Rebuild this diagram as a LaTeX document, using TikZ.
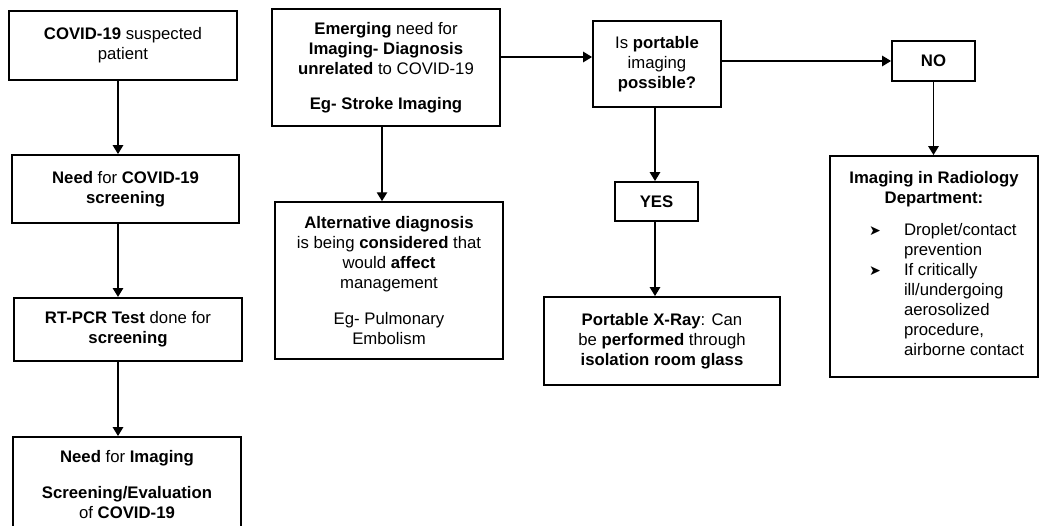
\documentclass[tikz,border=0pt]{standalone}
\usepackage{fontspec}
\setmainfont{Liberation Sans}
\newfontfamily\bulletfont{DejaVu Sans}
\usepackage{tikz}
\usetikzlibrary{arrows.meta}
\newcommand{\boxfont}{\fontsize{11.9}{14.2}\selectfont}
\newcommand{\bul}{{\bulletfont\fontsize{10}{14.2}\selectfont ➤}}
\tikzset{
  box/.style={draw=black, line width=1.4pt, fill=white,
              inner sep=3pt, align=center, font=\boxfont},
  answer/.style={box, font=\boxfont\bfseries},
  flow/.style={-{Triangle[length=2.2mm,width=2.6mm]}, line width=0.9pt},
}

\begin{document}
\begin{tikzpicture}[x=1cm,y=1cm]
  \path[use as bounding box] (0,0) rectangle (26,13.125);

  % Screening column.
  \node[box, minimum width=5.70cm, minimum height=1.725cm] (patient) at (3.075,11.99)
    {\textbf{COVID-19} suspected\\patient};
  \node[box, minimum width=5.675cm, minimum height=1.70cm] (screen) at (3.14,8.40)
    {\textbf{Need} for \textbf{COVID-19}\\\textbf{screening}};
  \node[box, minimum width=5.70cm, minimum height=1.575cm] (rtpcr) at (3.20,4.89)
    {\textbf{RT-PCR Test} done for\\\textbf{screening}};
  \node[box, minimum width=5.70cm, minimum height=2.375cm] (imgneed) at (3.175,1.0125)
    {\textbf{Need} for \textbf{Imaging}\\[3.8mm]\textbf{Screening/Evaluation}\\of \textbf{COVID-19}};

  \coordinate (colA) at (2.95,0);
  \draw[flow] (patient.south -| colA) -- (screen.north -| colA);
  \draw[flow] (screen.south -| colA) -- (rtpcr.north -| colA);
  \draw[flow] (rtpcr.south -| colA) -- (imgneed.north -| colA);

  % Emerging need unrelated to COVID-19.
  \node[box, minimum width=5.70cm, minimum height=2.925cm] (emerging) at (9.65,11.44)
    {\textbf{Emerging} need for\\\textbf{Imaging- Diagnosis}\\\textbf{unrelated} to COVID-19\\[3.8mm]\textbf{Eg- Stroke Imaging}};
  \node[box, minimum width=5.70cm, minimum height=3.925cm] (altdiag) at (9.725,6.11)
    {\textbf{Alternative diagnosis}\\is being \textbf{considered} that\\would \textbf{affect}\\management\\[4.2mm]Eg- Pulmonary\\Embolism};

  \coordinate (colB) at (9.55,0);
  \draw[flow] (emerging.south -| colB) -- (altdiag.north -| colB);

  % Portable imaging decision.
  \node[box, minimum width=3.20cm, minimum height=2.15cm] (portable) at (16.425,11.525)
    {Is \textbf{portable}\\imaging\\\textbf{possible?}};
  \coordinate (rowA) at (0,11.70);
  \draw[flow] (emerging.east |- rowA) -- (portable.west |- rowA);

  \node[answer, minimum width=2.075cm, minimum height=0.975cm] (yes) at (16.4125,8.0875) {YES};
  \node[box, minimum width=5.90cm, minimum height=2.20cm] (xray) at (16.55,4.60)
    {\textbf{Portable X-Ray}: Can\\be \textbf{performed} through\\\textbf{isolation room glass}};
  \coordinate (colC) at (16.375,0);
  \draw[flow] (portable.south -| colC) -- (yes.north -| colC);
  \draw[flow] (yes.south -| colC) -- (xray.north -| colC);

  \node[answer, minimum width=2.075cm, minimum height=1.00cm] (no) at (23.3375,11.60) {NO};
  \draw[flow] (portable.east |- no.west) -- (no.west);

  \node[box, minimum width=5.20cm, minimum height=5.525cm] (radiology) at (23.35,6.4625)
    {\textbf{Imaging in Radiology}\\\textbf{Department:}\\[3.3mm]
     \begin{tabular}{@{\hspace{0.625cm}}p{0.875cm}@{}l@{}}
       \bul & Droplet/contact\\
            & prevention\\
       \bul & If critically\\
            & ill/undergoing\\
            & aerosolized\\
            & procedure,\\
            & airborne contact
     \end{tabular}};
  \draw[flow] (no.south) -- (radiology.north -| no.south);
\end{tikzpicture}
\end{document}
